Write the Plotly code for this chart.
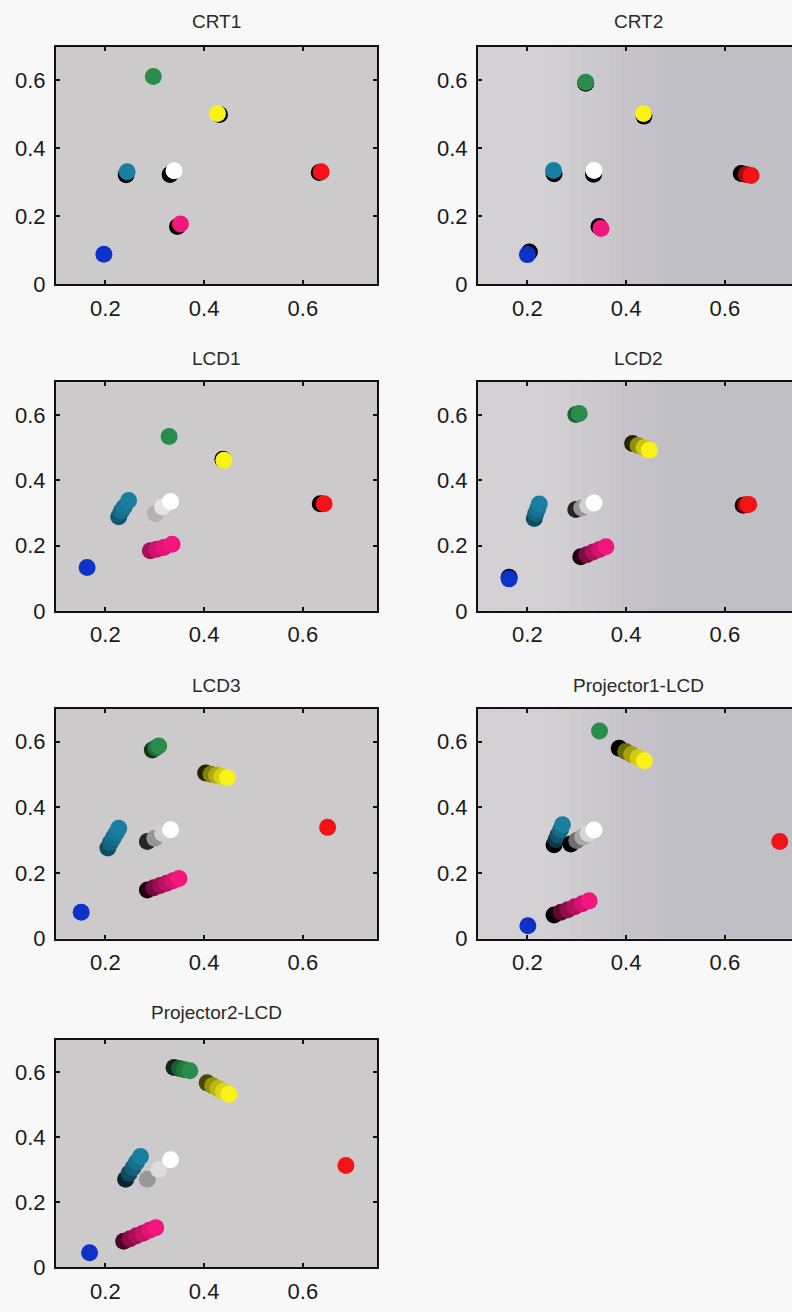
import plotly.graph_objects as go

# ---------------------------------------------------------------
# Chromaticity (x, y) of each primary/secondary/white channel,
# measured from the lowest to the highest drive level.
# ---------------------------------------------------------------
PANELS = ["CRT1", "CRT2", "LCD1", "LCD2", "LCD3", "Projector1-LCD", "Projector2-LCD"]
CHANNELS = ["red", "green", "blue", "cyan", "magenta", "yellow", "white"]

X_TICKS = [0.2, 0.4, 0.6]
X_TICK_TEXT = ["0.2", "0.4", "0.6"]
Y_TICKS = [0, 0.2, 0.4, 0.6]
Y_TICK_TEXT = ["0", "0.2", "0.4", "0.6"]

crt1 = {
    "red":     ([0.633, 0.637], [0.329, 0.331]),
    "green":   ([0.297], [0.612]),
    "blue":    ([0.197], [0.088]),
    "cyan":    ([0.242, 0.244], [0.322, 0.331]),
    "magenta": ([0.346, 0.352], [0.170, 0.177]),
    "yellow":  ([0.431, 0.427], [0.500, 0.503]),
    "white":   ([0.331, 0.339], [0.323, 0.334]),
}
crt2 = {
    "red":     ([0.633, 0.643, 0.653], [0.326, 0.323, 0.320]),
    "green":   ([0.318, 0.318], [0.592, 0.595]),
    "blue":    ([0.204, 0.200], [0.095, 0.087]),
    "cyan":    ([0.254, 0.253], [0.325, 0.335]),
    "magenta": ([0.345, 0.349], [0.170, 0.164]),
    "yellow":  ([0.436, 0.435], [0.495, 0.503]),
    "white":   ([0.334, 0.335], [0.324, 0.335]),
}
lcd1 = {
    "red":     ([0.635, 0.643], [0.328, 0.328]),
    "green":   ([0.329], [0.534]),
    "blue":    ([0.163], [0.133]),
    "cyan":    ([0.227, 0.232, 0.238, 0.247], [0.288, 0.305, 0.318, 0.338]),
    "magenta": ([0.291, 0.304, 0.318, 0.335], [0.184, 0.189, 0.194, 0.204]),
    "yellow":  ([0.438, 0.440], [0.464, 0.461]),
    "white":   ([0.301, 0.316, 0.332], [0.298, 0.318, 0.335]),
}
lcd2 = {
    "red":     ([0.637, 0.643, 0.648], [0.323, 0.325, 0.326]),
    "green":   ([0.298, 0.305], [0.601, 0.604]),
    "blue":    ([0.163, 0.163], [0.103, 0.098]),
    "cyan":    ([0.214, 0.217, 0.221, 0.224], [0.283, 0.298, 0.313, 0.327]),
    "magenta": ([0.308, 0.320, 0.333, 0.346, 0.359], [0.166, 0.172, 0.180, 0.188, 0.196]),
    "yellow":  ([0.413, 0.424, 0.436, 0.447], [0.512, 0.506, 0.499, 0.492]),
    "white":   ([0.298, 0.310, 0.322, 0.335], [0.310, 0.315, 0.322, 0.330]),
}
lcd3 = {
    "red":     ([0.650], [0.339]),
    "green":   ([0.295, 0.302, 0.308], [0.575, 0.581, 0.587]),
    "blue":    ([0.151], [0.080]),
    "cyan":    ([0.205, 0.210, 0.216, 0.222, 0.227], [0.276, 0.292, 0.307, 0.322, 0.336]),
    "magenta": ([0.285, 0.298, 0.311, 0.324, 0.337, 0.349],
                [0.148, 0.155, 0.162, 0.169, 0.176, 0.183]),
    "yellow":  ([0.403, 0.414, 0.425, 0.436, 0.447], [0.505, 0.501, 0.498, 0.494, 0.490]),
    "white":   ([0.285, 0.300, 0.316, 0.332], [0.296, 0.306, 0.320, 0.332]),
}
proj1 = {
    "red":     ([0.711], [0.296]),
    "green":   ([0.346], [0.633]),
    "blue":    ([0.201], [0.039]),
    "cyan":    ([0.254, 0.258, 0.262, 0.267, 0.271], [0.286, 0.301, 0.316, 0.332, 0.347]),
    "magenta": ([0.254, 0.268, 0.282, 0.296, 0.311, 0.325],
                [0.072, 0.080, 0.088, 0.097, 0.106, 0.115]),
    "yellow":  ([0.386, 0.399, 0.411, 0.424, 0.437], [0.580, 0.570, 0.561, 0.551, 0.542]),
    "white":   ([0.288, 0.300, 0.312, 0.323, 0.335], [0.288, 0.299, 0.310, 0.320, 0.331]),
}
proj2 = {
    "red":     ([0.687], [0.313]),
    "green":   ([0.339, 0.350, 0.360, 0.371], [0.614, 0.611, 0.607, 0.604]),
    "blue":    ([0.168], [0.045]),
    "cyan":    ([0.241, 0.248, 0.256, 0.263, 0.271], [0.271, 0.289, 0.306, 0.323, 0.341]),
    "magenta": ([0.237, 0.250, 0.263, 0.276, 0.289, 0.302],
                [0.080, 0.088, 0.097, 0.105, 0.114, 0.122]),
    "yellow":  ([0.406, 0.417, 0.428, 0.439, 0.450], [0.567, 0.558, 0.550, 0.541, 0.532]),
    "white":   ([0.285, 0.308, 0.332], [0.271, 0.301, 0.331]),
}
DEVICE_DATA = [crt1, crt2, lcd1, lcd2, lcd3, proj1, proj2]

# ---------------------------------------------------------------
# Styling
# ---------------------------------------------------------------
W, H = 792, 1312
FONT = "Liberation Sans"
FULL_RGB = {
    "red": (244, 18, 22), "green": (42, 140, 74), "blue": (12, 50, 200),
    "cyan": (26, 126, 160), "magenta": (242, 22, 126), "yellow": (248, 242, 22),
    "white": (255, 255, 255),
}
# brightness of the lowest drive level of each trail
FLOOR_DEFAULT = [0.0, 0.0, 0.7, 0.15, 0.15, 0.0, 0.3]
FLOOR_OVERRIDE = {
    (2, "yellow"): 0.0, (2, "red"): 0.0,
    (3, "cyan"): 0.6, (3, "green"): 0.7, (4, "cyan"): 0.6, (4, "green"): 0.4,
    (6, "white"): 0.6,
}

# plot-area pixel boxes
LEFT_COL = (56, 377)
RIGHT_COL = (478, 799)
ROWS = [(47, 287), (386, 617), (716, 948), (1050, 1280)]
TITLE_Y = [22, 362, 692, 1023]
X_RANGE = (0.1, 0.75)
Y_RANGE = (0.0, 0.7)
LEFT_BG = "#cdcacc"


def rgb(c):
    return "rgb(%d,%d,%d)" % tuple(int(round(v)) for v in c)


def shades(panel, ch, n):
    floor = FLOOR_OVERRIDE.get((panel, ch), FLOOR_DEFAULT[panel])
    base = FULL_RGB[ch]
    out = []
    for i in range(n):
        t = 1.0 if n == 1 else i / (n - 1)
        k = floor + (1 - floor) * t ** 0.6
        out.append(rgb([v * k for v in base]))
    return out


fig = go.Figure()
layout = dict(
    width=W, height=H, autosize=False,
    margin=dict(l=0, r=0, t=0, b=0),
    paper_bgcolor="#f8f8f8", plot_bgcolor=LEFT_BG,
    showlegend=False,
    shapes=[], annotations=[],
)

for p, name in enumerate(PANELS):
    row, col = divmod(p, 2)
    xl, xr = LEFT_COL if col == 0 else RIGHT_COL
    yt, yb = ROWS[row]
    x_dom = [xl / W, min(xr, W) / W]
    y_dom = [1 - yb / H, 1 - yt / H]
    scale = (xr - xl) / (X_RANGE[1] - X_RANGE[0])
    x_hi = X_RANGE[0] + (min(xr, W) - xl) / scale
    idx = "" if p == 0 else str(p + 1)
    xa, ya = "x" + idx, "y" + idx

    axis_common = dict(
        showgrid=False, zeroline=False, showline=True,
        linecolor="#111111", linewidth=2,
        ticks="inside", ticklen=4, tickwidth=1.5, tickcolor="#111111",
        tickfont=dict(family=FONT, size=22, color="#1a1a1a"),
        fixedrange=True,
    )
    layout["xaxis" + idx] = dict(
        axis_common, domain=x_dom, range=[X_RANGE[0], x_hi], anchor=ya,
        tickvals=X_TICKS, ticktext=X_TICK_TEXT, mirror="ticks",
        ticklabelstandoff=3,
    )
    layout["yaxis" + idx] = dict(
        axis_common, domain=y_dom, range=list(Y_RANGE), anchor=xa,
        tickvals=Y_TICKS, ticktext=Y_TICK_TEXT,
        mirror="ticks" if col == 0 else False,
        ticklabelstandoff=4,
    )

    # right-hand panels: background shading that darkens towards the right
    if col == 1:
        n = 24
        c0, c1 = (211, 209, 211), (193, 191, 198)
        for i in range(n):
            f = (i + 0.5) / n
            t = min(max((f - 0.2) / 0.4, 0.0), 1.0)
            c = [a + (b - a) * t for a, b in zip(c0, c1)]
            layout["shapes"].append(dict(
                type="rect", layer="below", line=dict(width=0),
                xref=xa + " domain", yref=ya + " domain",
                x0=i / n, x1=(i + 1) / n + 0.002, y0=0, y1=1,
                fillcolor=rgb(c),
            ))

    layout["annotations"].append(dict(
        text=name, xref="paper", yref="paper",
        x=(xl + xr) / 2 / W, y=1 - TITLE_Y[row] / H,
        xanchor="center", yanchor="middle", showarrow=False,
        font=dict(family=FONT, size=19, color="#2a2a2a"),
    ))

    data = DEVICE_DATA[p]
    for ch in CHANNELS:
        xs, ys = data[ch]
        fig.add_trace(go.Scatter(
            x=xs, y=ys, xaxis=xa, yaxis=ya, mode="markers",
            marker=dict(size=17, color=shades(p, ch, len(xs)), line=dict(width=0)),
            hoverinfo="skip", name=ch,
        ))

fig.update_layout(**layout)
fig.write_html("out.html")
